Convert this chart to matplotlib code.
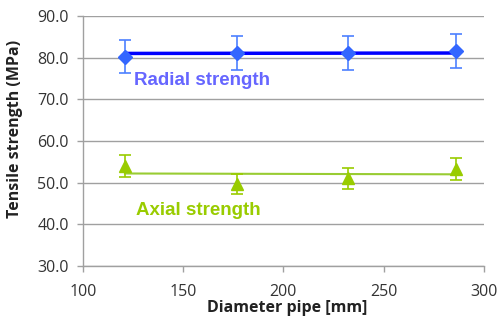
import matplotlib
matplotlib.use("Agg")
import matplotlib.pyplot as plt

diameter = [121, 177, 232, 286]
radial = [80.2, 81.1, 81.2, 81.6]
radial_err = [4.0, 4.0, 4.1, 4.0]
radial_trend = [81.0, 81.1]
axial = [54.0, 49.6, 51.0, 53.3]
axial_err = [2.6, 2.4, 2.6, 2.7]
axial_trend = [52.2, 52.0]
xticks = [100, 150, 200, 250, 300]
yticks = [30, 40, 50, 60, 70, 80, 90]

plt.rcParams['font.family'] = ['Open Sans', 'DejaVu Sans']

fig = plt.figure(figsize=(4.99, 3.25), dpi=100)
ax = fig.add_axes([0.166, 0.1815, 0.804, 0.7695])

gray = '#A0A0A0'
ax.set_xlim(100, 300)
ax.set_ylim(30, 90)
ax.set_yticks(yticks)
ax.set_yticklabels([f"{v:.1f}" for v in yticks])
ax.set_xticks(xticks)
ax.yaxis.grid(True, color=gray, linewidth=1.0)
ax.set_axisbelow(True)
for s in ['top', 'right']:
    ax.spines[s].set_visible(False)
for s in ['left', 'bottom']:
    ax.spines[s].set_color(gray)
    ax.spines[s].set_linewidth(1.0)
ax.tick_params(axis='both', colors=gray, labelcolor='#333333', labelsize=11.5, length=4, width=1.0, direction='out')
ax.tick_params(axis='y', pad=6)
ax.tick_params(axis='x', pad=9)

# Radial
ax.plot([diameter[0], diameter[-1]], radial_trend, color='#0000FF', linewidth=2.5, zorder=3)
ax.errorbar(diameter, radial, yerr=radial_err, fmt='D', color='#3366FF', ecolor='#4D80FF',
            markersize=7, capsize=4, elinewidth=1.2, capthick=1.2, zorder=4)
# Axial
ax.plot([diameter[0], diameter[-1]], axial_trend, color='#99CC33', linewidth=1.5, zorder=3)
ax.errorbar(diameter, axial, yerr=axial_err, fmt='^', color='#99CC00', ecolor='#99CC00',
            markersize=8.5, capsize=4, elinewidth=1.2, capthick=1.2, zorder=4)

ax.text(125.5, 74.4, 'Radial strength', color='#6666FF', fontsize=13.5, fontweight='bold',
        family=['Liberation Sans', 'DejaVu Sans'], va='center', ha='left')
ax.text(126.5, 43.2, 'Axial strength', color='#99CC00', fontsize=13.5, fontweight='bold',
        family=['Liberation Sans', 'DejaVu Sans'], va='center', ha='left')

ax.set_xlabel('Diameter pipe [mm]', fontsize=11.5, fontweight='bold', color='#222222')
ax.xaxis.set_label_coords(0.51, -0.135)
ax.set_ylabel('Tensile strength (MPa)', fontsize=11.5, fontweight='bold', color='#222222')
ax.yaxis.set_label_coords(-0.15, 0.55)

fig.savefig('out.png', dpi=100)
